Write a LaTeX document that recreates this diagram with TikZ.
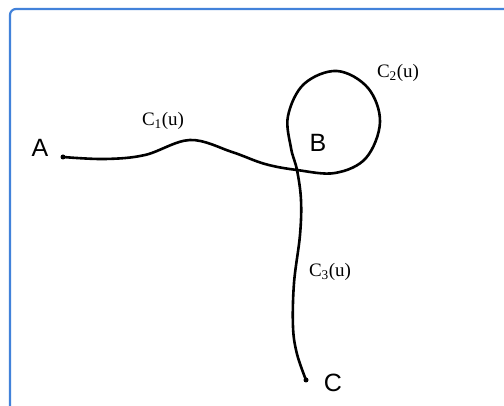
\documentclass[tikz,border=0pt]{standalone}
\usepackage{fontspec}
\setmainfont{Liberation Serif}
\newfontfamily\pointfont{Liberation Sans}
\definecolor{frameblue}{RGB}{66,130,218}
\begin{document}
\begin{tikzpicture}[x=1pt,y=-1pt,
  curve/.style={line width=2.6pt,line cap=round,line join=round},
  ptlabel/.style={font=\pointfont\fontsize{25}{25}\selectfont,inner sep=0pt},
  crvlabel/.style={font=\fontsize{19}{19}\selectfont,inner sep=0pt},
  dotpt/.style={circle,fill=black,inner sep=0pt,minimum size=5pt}]
\useasboundingbox (0,0) rectangle (504,406);
\fill[white] (0,0) rectangle (504,406);
\draw[frameblue,line width=2.2pt,rounded corners=6pt] (10,9) -- (530,9) -- (530,430) -- (10,430) -- cycle;
\node[dotpt] (A) at (63,157) {};
\node[dotpt] (C) at (306,380) {};
\coordinate (X) at (297,170);
\node[ptlabel] (lA) at (40,148) {A};
\node[ptlabel] (lB) at (318,143) {B};
\node[ptlabel] (lC) at (333,383) {C};
\node[crvlabel] (l1) at (163,121) {C\textsubscript{1}(u)};
\node[crvlabel] (l2) at (398,73) {C\textsubscript{2}(u)};
\node[crvlabel] (l3) at (330,272) {C\textsubscript{3}(u)};
\draw[curve] plot[smooth,tension=0.6] coordinates {(A) (105,159) (145,155) (190,140) (232,152) (265,164) (X) (335,173) (366,158) (380,122) (368,88) (337,71) (304,84) (288,116) (291,148) (X) (301,200) (300,235) (294,283) (293,327) (297,354) (C)};
\end{tikzpicture}
\end{document}
